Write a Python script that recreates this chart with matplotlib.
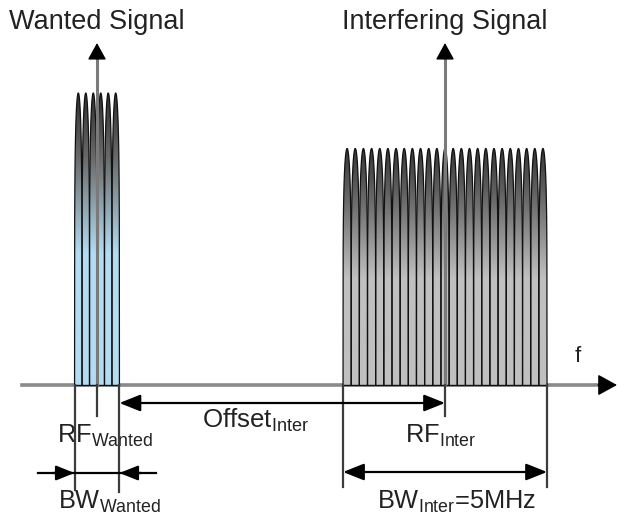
import numpy as np
import matplotlib.pyplot as plt
from matplotlib.path import Path
from matplotlib.patches import PathPatch, FancyArrowPatch
from matplotlib.colors import LinearSegmentedColormap

plt.rcParams['font.family'] = ['Liberation Sans', 'DejaVu Sans']
plt.rcParams['mathtext.fontset'] = 'custom'
plt.rcParams['mathtext.rm'] = 'Liberation Sans'
plt.rcParams['mathtext.it'] = 'Liberation Sans:italic'

# spectrum description: centre / bandwidth in MHz, level relative to wanted
names = ['Wanted Signal', 'Interfering Signal']
centres = [0.0, 8.53]
bandwidths = [1.1, 5.0]
carriers = [6, 25]
levels = [1.0, 0.81]
fill_low = ['#b3dcf2', '#c0c0c0']
fill_high = ['#2f2f2f', '#353535']

rf_labels = [r'RF$_{\mathrm{Wanted}}$', r'RF$_{\mathrm{Inter}}$']
bw_labels = [r'BW$_{\mathrm{Wanted}}$', r'BW$_{\mathrm{Inter}}$=5MHz']
offset_label = r'Offset$_{\mathrm{Inter}}$'

# pixel -> data helpers for the drawing layout
SX = 40.8
SY = 292.0
X0 = 97
Y0 = 385


def px(x):
    return (x - X0) / SX


def py(y):
    return (Y0 - y) / SY


def dx(d):
    return d / SX


fig = plt.figure(figsize=(6.18, 5.15), dpi=100)
ax = fig.add_axes([0, 0, 1, 1])
ax.set_xlim(px(0), px(618))
ax.set_ylim(py(515), py(0))
ax.axis('off')

tc = '#222222'


def finger(c, w, h, n=60):
    u = np.linspace(-1, 1, n)
    y = h * (1 - np.abs(u) ** 2) ** (1 / 5.0)
    x = c + u * w / 2
    return x, y


for i in range(2):
    lo = centres[i] - bandwidths[i] / 2
    w = bandwidths[i] / carriers[i]
    verts, codes = [], []
    outlines = []
    for k in range(carriers[i]):
        x, y = finger(lo + (k + 0.5) * w, w, levels[i])
        outlines.append((x, y))
        pts = list(zip(x, y))
        verts += pts + [pts[0]]
        codes += [Path.MOVETO] + [Path.LINETO] * (len(pts) - 1) + [Path.CLOSEPOLY]
    path = Path(verts, codes)
    patch = PathPatch(path, facecolor='none', edgecolor='none', transform=ax.transData)
    ax.add_patch(patch)
    cmap = LinearSegmentedColormap.from_list(
        'g', [(0, fill_low[i]), (0.45, fill_low[i]), (0.78, '#6a6a6a'), (1, fill_high[i])])
    grad = np.linspace(0, 1, 256).reshape(-1, 1)
    im = ax.imshow(grad, cmap=cmap, origin='lower', aspect='auto',
                   extent=[lo, lo + bandwidths[i], 0, levels[i]], zorder=2)
    im.set_clip_path(patch)
    for x, y in outlines:
        ax.plot(x, y, color='#111111', lw=0.9, zorder=3)
    ax.plot([lo, lo + bandwidths[i]], [0, 0], color='#111111', lw=1, zorder=3)

    # carrier arrow and title
    ax.plot([centres[i], centres[i]], [0, py(54)], color='#7a7a7a', lw=2.2, zorder=4)
    ax.add_patch(FancyArrowPatch((centres[i], py(58)), (centres[i], py(43)),
                                 arrowstyle='-|>,head_length=0.4,head_width=0.22',
                                 mutation_scale=26, color='black',
                                 lw=1, shrinkA=0, shrinkB=0, zorder=5))
    ax.text(centres[i], py(22), names[i], ha='center', va='center', fontsize=19.5,
            color=tc)

# frequency axis
ax.plot([px(22), px(603)], [0, 0], color='#8a8a8a', lw=2.6, zorder=1)
ax.add_patch(FancyArrowPatch((px(598), 0), (px(617), 0),
                             arrowstyle='-|>,head_length=0.4,head_width=0.22',
                             mutation_scale=30, color='black', lw=1,
                             shrinkA=0, shrinkB=0, zorder=5))
ax.text(px(578), py(356), 'f', ha='center', va='center', fontsize=16, color=tc)

# markers below the axis
lc = '#3c3c3c'
w_lo = centres[0] - bandwidths[0] / 2
w_hi = centres[0] + bandwidths[0] / 2
i_lo = centres[1] - bandwidths[1] / 2
i_hi = centres[1] + bandwidths[1] / 2
for x, yb in [(w_lo, 490), (centres[0], 416), (w_hi, 492),
              (i_lo, 487), (centres[1], 416), (i_hi, 487)]:
    ax.plot([x, x], [0, py(yb)], color=lc, lw=1.6, zorder=4)

head = '-|>,head_length=0.4,head_width=0.16'
heads = '<|-|>,head_length=0.4,head_width=0.16'


def arrow(a, b, style, ms=32):
    ax.add_patch(FancyArrowPatch(a, b, arrowstyle=style, mutation_scale=ms,
                                 color='black', lw=1.6, shrinkA=0, shrinkB=0, zorder=5))


# offset arrow
arrow((w_hi, py(403)), (centres[1], py(403)), heads)
ax.text(px(256), py(420), offset_label, ha='center', va='center', fontsize=18.6, color=tc)

# RF labels
ax.text(centres[0] + dx(8.5), py(436), rf_labels[0], ha='center', va='center',
        fontsize=18.3, color=tc)
ax.text(centres[1] - dx(4), py(436), rf_labels[1], ha='center', va='center',
        fontsize=18.3, color=tc)

# wanted bandwidth (arrows pointing inward)
ax.plot([px(38), px(156)], [py(473), py(473)], color='black', lw=1.6, zorder=4)
arrow((w_lo - dx(22), py(473)), (w_lo, py(473)), head, ms=28)
arrow((w_hi + dx(22), py(473)), (w_hi, py(473)), head, ms=28)
ax.text(centres[0] + dx(13), py(502), bw_labels[0], ha='center', va='center',
        fontsize=18.3, color=tc)

# interferer bandwidth
arrow((i_lo, py(472)), (i_hi, py(472)), heads)
ax.text(centres[1] + dx(12), py(502), bw_labels[1], ha='center', va='center',
        fontsize=18.3, color=tc)

fig.savefig('out.png', dpi=100)
